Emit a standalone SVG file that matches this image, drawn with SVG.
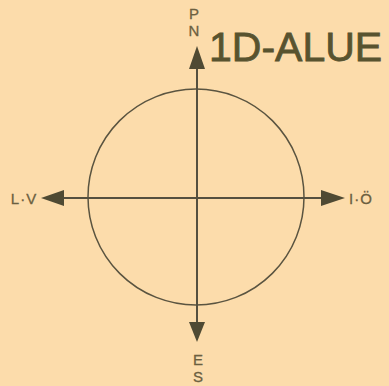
<svg xmlns="http://www.w3.org/2000/svg" width="389" height="386" viewBox="0 0 389 386">
<style>
.ax{stroke:#55503f;stroke-width:2;fill:none}
.hd{fill:#4f4a33;stroke:none}
.lb{font-family:"Liberation Sans",Arial,sans-serif;fill:#6b6040;stroke:#6b6040;stroke-width:0.3;font-size:15px}
.tt{font-family:"Liberation Sans",Arial,sans-serif;fill:#58532f;stroke:#58532f;stroke-width:0.8;font-size:41px}
</style>
<rect width="389" height="386" fill="#fcdcab"/>
<g id="circle"><circle cx="196" cy="197" r="108" fill="none" stroke="#5a5440" stroke-width="1.5"/></g>
<g id="connectors">
<line class="ax" x1="197" y1="62" x2="197" y2="326"/>
<line class="ax" x1="60" y1="198" x2="330" y2="198"/>
<polygon class="hd" points="197,46 189,69 205,69"/>
<polygon class="hd" points="197,342 189,322 205,322"/>
<polygon class="hd" points="41,198 64,190 64,206"/>
<polygon class="hd" points="345,198 321,190 321,206"/>
</g>
<g id="labels">
<text class="lb" x="194" y="19" text-anchor="middle" font-size="14">P</text>
<text class="lb" x="194" y="36" text-anchor="middle">N</text>
<text class="lb" x="198" y="365" text-anchor="middle" font-size="17">E</text>
<text class="lb" x="198" y="382" text-anchor="middle" font-size="17">S</text>
<text class="lb" x="24" y="204" text-anchor="middle" letter-spacing="1">L·V</text>
<text class="lb" x="361" y="204" text-anchor="middle" letter-spacing="1">I·Ö</text>
<text class="tt" x="209" y="61">1D-ALUE</text>
</g>
</svg>
